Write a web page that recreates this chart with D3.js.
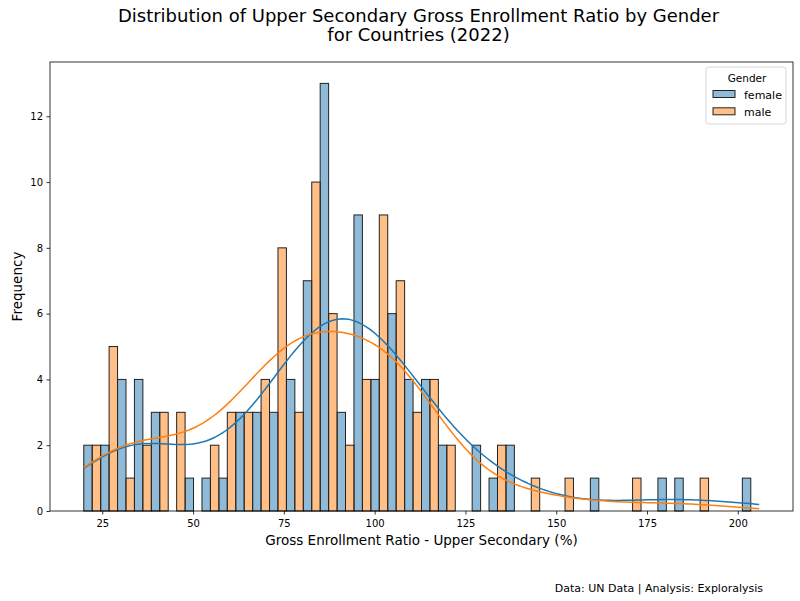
<!DOCTYPE html>
<html>
<head>
<meta charset="utf-8">
<title>Upper Secondary Gross Enrollment Ratio</title>
<script src="https://d3js.org/d3.v7.min.js"></script>
<style>
  body { margin: 0; background: #fff; }
  svg { display: block; font-family: "DejaVu Sans", sans-serif; }
</style>
</head>
<body>
<div id="chart"></div>
<script>
// histogram bins (shared by both genders)
var binStart = 19.9;
var binWidth = 4.65;

// counts per bin
var femaleCounts = [2, 2, 4, 4, 3, 0, 1, 1, 1, 3, 3, 3, 4, 7, 13, 3, 9, 4, 6, 4,
                    4, 2, 0, 2, 1, 2, 0, 0, 0, 0, 1, 0, 0, 0, 1, 1, 0, 0, 0, 1];
var maleCounts   = [2, 5, 1, 2, 3, 3, 0, 2, 3, 3, 4, 8, 3, 10, 6, 2, 4, 9, 7, 3,
                    4, 2, 0, 0, 2, 0, 1, 0, 1, 0, 0, 0, 1, 0, 0, 0, 1, 0, 0, 0];

var genders = ["female", "male"];
var colors = ["#1f77b4", "#ff7f0e"];
var xTicks = [25, 50, 75, 100, 125, 150, 175, 200];
var yTicks = [0, 2, 4, 6, 8, 10, 12];

var width = 800, height = 601;
var margin = {top: 62, right: 7, bottom: 90, left: 50};
var w = width - margin.left - margin.right,
    h = height - margin.top - margin.bottom;

var nBins = femaleCounts.length;
var binEnd = binStart + nBins * binWidth;
var pad = (binEnd - binStart) * 0.05;

var x = d3.scaleLinear().domain([binStart - pad, binEnd + pad]).range([0, w]);
var y = d3.scaleLinear().domain([0, 13 * 1.05]).range([h, 0]);

var svg = d3.select("#chart").append("svg")
    .attr("width", width)
    .attr("height", height);

var g = svg.append("g")
    .attr("transform", "translate(" + margin.left + "," + margin.top + ")");

// bars, dodged inside each bin
var series = [femaleCounts, maleCounts];
series.forEach(function(counts, k) {
  var bins = counts.map(function(c, i) {
    var x0 = binStart + i * binWidth;
    return {x0: x0 + k * binWidth / 2, x1: x0 + (k + 1) * binWidth / 2, count: c};
  }).filter(function(d) { return d.count > 0; });

  g.append("g").selectAll("rect")
    .data(bins)
    .enter().append("rect")
    .attr("x", function(d) { return x(d.x0); })
    .attr("width", function(d) { return x(d.x1) - x(d.x0); })
    .attr("y", function(d) { return y(d.count); })
    .attr("height", function(d) { return y(0) - y(d.count); })
    .attr("fill", colors[k])
    .attr("fill-opacity", 0.5)
    .attr("stroke", "#222")
    .attr("stroke-width", 1);
});

// kde curves (gaussian, scott bandwidth) from bin centres, scaled to counts
function kdeLine(counts) {
  var pts = [];
  counts.forEach(function(c, i) {
    for (var j = 0; j < c; j++) pts.push(binStart + (i + 0.5) * binWidth);
  });
  var n = pts.length;
  var sd = d3.deviation(pts);
  var bw = sd * Math.pow(n, -0.2);
  var grid = d3.range(200).map(function(i) { return binStart + (binEnd - binStart) * i / 199; });
  return grid.map(function(xv) {
    var s = d3.sum(pts, function(p) {
      var z = (xv - p) / bw;
      return Math.exp(-0.5 * z * z);
    });
    var dens = s / (n * bw * Math.sqrt(2 * Math.PI));
    return [xv, dens * n * binWidth];
  });
}

var line = d3.line()
    .x(function(d) { return x(d[0]); })
    .y(function(d) { return y(d[1]); });

series.forEach(function(counts, k) {
  g.append("path")
    .datum(kdeLine(counts))
    .attr("d", line)
    .attr("fill", "none")
    .attr("stroke", colors[k])
    .attr("stroke-width", 1.5);
});

// axes
var xAxis = g.append("g")
    .attr("transform", "translate(0," + h + ")")
    .call(d3.axisBottom(x).tickValues(xTicks).tickSizeOuter(0).tickSize(3.5).tickPadding(5.5));
var yAxis = g.append("g")
    .call(d3.axisLeft(y).tickValues(yTicks).tickSizeOuter(0).tickSize(3.5).tickPadding(3.5));

[xAxis, yAxis].forEach(function(a) {
  a.selectAll("text").attr("font-size", 10).attr("font-family", "DejaVu Sans").attr("fill", "#000");
  a.select(".domain").remove();
  a.selectAll("line").attr("stroke", "#000").attr("stroke-width", 0.8);
});

// frame
g.append("rect")
  .attr("width", w).attr("height", h)
  .attr("fill", "none").attr("stroke", "#000").attr("stroke-width", 0.8);

// labels
g.append("text")
  .attr("x", w / 2).attr("y", h + 34)
  .attr("text-anchor", "middle").attr("font-size", 13.5)
  .text("Gross Enrollment Ratio - Upper Secondary (%)");

g.append("text")
  .attr("transform", "translate(-28," + (h / 2) + ") rotate(-90)")
  .attr("text-anchor", "middle").attr("font-size", 13.5)
  .text("Frequency");

svg.append("text")
  .attr("x", margin.left + w / 2 - 3).attr("y", 22)
  .attr("text-anchor", "middle").attr("font-size", 18)
  .text("Distribution of Upper Secondary Gross Enrollment Ratio by Gender");
svg.append("text")
  .attr("x", margin.left + w / 2 - 3).attr("y", 41)
  .attr("text-anchor", "middle").attr("font-size", 18)
  .text("for Countries (2022)");

svg.append("text")
  .attr("x", 763).attr("y", 592)
  .attr("text-anchor", "end").attr("font-size", 11)
  .text("Data: UN Data | Analysis: Exploralysis");

// legend
var lg = g.append("g").attr("transform", "translate(" + (w - 87) + ",5)");
lg.append("rect")
  .attr("width", 80).attr("height", 57).attr("rx", 2.5)
  .attr("fill", "#fff").attr("fill-opacity", 0.8)
  .attr("stroke", "#ccc").attr("stroke-width", 0.8);
lg.append("text")
  .attr("x", 41).attr("y", 14.5)
  .attr("text-anchor", "middle").attr("font-size", 10.5)
  .text("Gender");
genders.forEach(function(name, k) {
  var row = lg.append("g").attr("transform", "translate(7," + (23.5 + k * 17.3) + ")");
  row.append("rect")
    .attr("width", 22).attr("height", 7)
    .attr("fill", colors[k]).attr("fill-opacity", 0.5)
    .attr("stroke", "#222").attr("stroke-width", 1);
  row.append("text")
    .attr("x", 31).attr("y", 8)
    .attr("font-size", 11)
    .text(name);
});
</script>
</body>
</html>
